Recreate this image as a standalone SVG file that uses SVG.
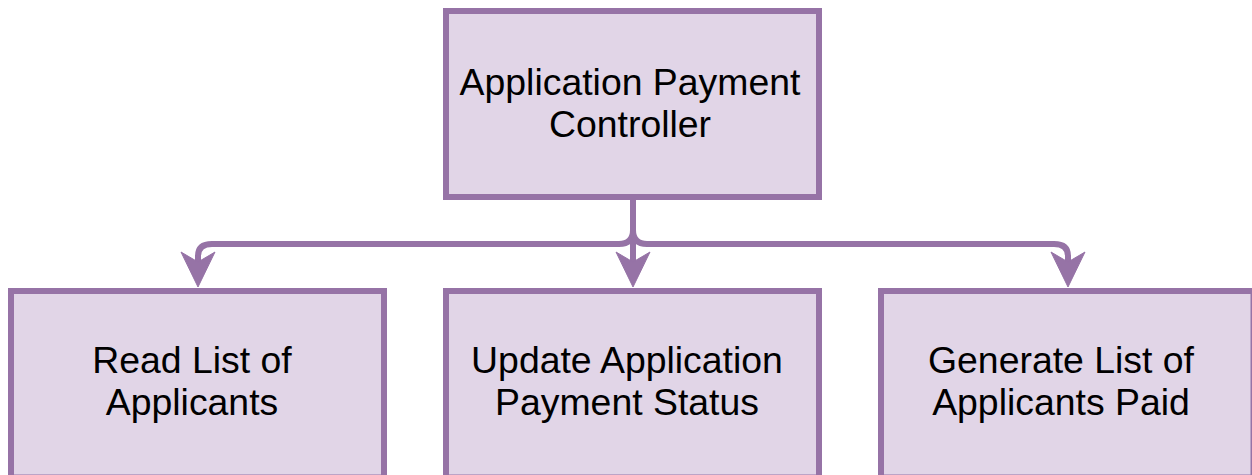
<svg xmlns="http://www.w3.org/2000/svg" width="1252" height="475" viewBox="0 0 1252 475">
<defs>
<style>
.box{fill:#e1d5e7;stroke:#9673a6;stroke-width:6;}
.edge{fill:none;stroke:#9673a6;stroke-width:6;stroke-linejoin:round;}
.head{fill:#9673a6;stroke:#9673a6;stroke-width:1;}
.lbl{font-family:"Liberation Sans",Arial,sans-serif;font-size:37.4px;fill:#000000;text-anchor:middle;}
</style>
</defs>
<rect width="1252" height="475" fill="#ffffff"/>
<g id="connectors">
<path class="edge" d="M633,197 L633,230 Q633,244 619,244 L212,244 Q198,244 198,256 L198,262"/>
<path class="edge" d="M633,197 L633,262"/>
<path class="edge" d="M633,197 L633,230 Q633,244 647,244 L1054,244 Q1068,244 1068,256 L1068,262"/>
<path class="head" d="M198,287 L181,252 L198,262 L215,252 Z"/>
<path class="head" d="M633,287 L616,252 L633,262 L650,252 Z"/>
<path class="head" d="M1068,287 L1051,252 L1068,262 L1085,252 Z"/>
</g>
<g id="controller">
<rect class="box" x="446" y="11" width="373" height="186"/>
<text class="lbl" x="630" y="95">Application Payment</text>
<text class="lbl" x="630" y="137">Controller</text>
</g>
<g id="read-list">
<rect class="box" x="11" y="291" width="373" height="186.5"/>
<text class="lbl" x="192" y="373">Read List of</text>
<text class="lbl" x="192" y="415">Applicants</text>
</g>
<g id="update-status">
<rect class="box" x="446" y="291" width="373" height="186.5"/>
<text class="lbl" x="627" y="373">Update Application</text>
<text class="lbl" x="627" y="415">Payment Status</text>
</g>
<g id="generate-list">
<rect class="box" x="881" y="291" width="372.5" height="186.5"/>
<text class="lbl" x="1061" y="373">Generate List of</text>
<text class="lbl" x="1061" y="415">Applicants Paid</text>
</g>
</svg>
